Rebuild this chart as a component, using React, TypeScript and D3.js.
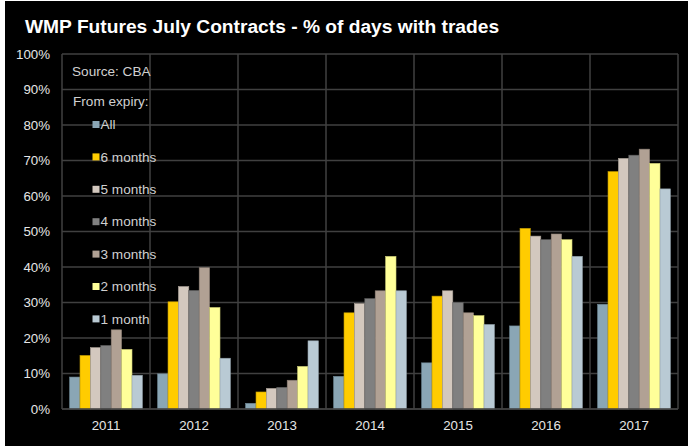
import React from "react";
import * as d3 from "d3";

const years = ["2011", "2012", "2013", "2014", "2015", "2016", "2017"];
const seriesNames = ["All", "6 months", "5 months", "4 months", "3 months", "2 months", "1 month"];
const seriesColors = ["#8aa6b5", "#ffcc00", "#d3c8be", "#808080", "#b1a194", "#ffff99", "#b9cad4"];
const seriesStrokes = ["#6f8794", "#b89300", "#a89e95", "#5e5e5e", "#8c7f74", "#c9c974", "#93a2ab"];
const allVals = [9.0, 9.9, 1.6, 9.2, 13.0, 23.4, 29.5];
const m6Vals = [15.1, 30.2, 4.8, 27.1, 31.8, 50.9, 66.9];
const m5Vals = [17.3, 34.5, 5.8, 29.7, 33.3, 48.7, 70.6];
const m4Vals = [17.9, 33.4, 6.1, 31.1, 30.0, 47.7, 71.5];
const m3Vals = [22.3, 39.8, 8.1, 33.3, 27.1, 49.3, 73.2];
const m2Vals = [16.8, 28.6, 12.0, 43.0, 26.3, 47.7, 69.2];
const m1Vals = [9.5, 14.3, 19.2, 33.3, 23.8, 43.0, 62.0];
const seriesValues = [allVals, m6Vals, m5Vals, m4Vals, m3Vals, m2Vals, m1Vals];
const yTicks = [0, 10, 20, 30, 40, 50, 60, 70, 80, 90, 100];

const W = 688;
const H = 446;
const left = 62;
const right = 678;
const top = 54;
const bottom = 409;

export default function App() {
  const x = d3.scaleBand<string>().domain(years).range([left, right]).paddingInner(0).paddingOuter(0);
  const inner = d3
    .scaleBand<string>()
    .domain(seriesNames)
    .range([0, x.bandwidth()])
    .paddingInner(0)
    .paddingOuter(0.73);
  const y = d3.scaleLinear().domain([0, 100]).range([bottom, top]);
  const font = "Arial, 'Liberation Sans', Helvetica, sans-serif";
  const legendY0 = 124.5;
  const legendStep = 32.4;

  return (
    <svg
      width={W}
      height={H}
      style={{ position: "absolute", left: 0, top: 0, display: "block" }}
      fontFamily={font}
    >
      <rect x={0} y={0} width={W} height={H} fill="#ffffff" />
      <rect x={5} y={1} width={W - 5} height={H - 1} fill="#000000" />
      <text x={25} y={33} fill="#ffffff" fontSize={19.2} fontWeight="bold">
        WMP Futures July Contracts - % of days with trades
      </text>

      {yTicks.map((t) => (
        <line key={"g" + t} x1={left} x2={right} y1={y(t)} y2={y(t)} stroke="#404040" strokeWidth={1.5} />
      ))}
      {years.map((yr) => (
        <line
          key={"v" + yr}
          x1={x(yr)!}
          x2={x(yr)!}
          y1={top}
          y2={bottom}
          stroke="#404040"
          strokeWidth={1.5}
        />
      ))}
      <line x1={right} x2={right} y1={top} y2={bottom} stroke="#404040" strokeWidth={1.5} />

      {years.map((yr, i) =>
        seriesNames.map((s, j) => {
          const v = seriesValues[j][i];
          return (
            <rect
              key={yr + s}
              x={x(yr)! + inner(s)!}
              y={y(v)}
              width={inner.bandwidth()}
              height={y(0) - y(v)}
              fill={seriesColors[j]}
              stroke={seriesStrokes[j]}
              strokeWidth={0.6}
            />
          );
        })
      )}

      <line x1={left} x2={right} y1={bottom} y2={bottom} stroke="#404040" strokeWidth={1.5} />

      {yTicks.map((t) => (
        <text
          key={"yl" + t}
          x={50}
          y={y(t)}
          dy="0.35em"
          textAnchor="end"
          fill="#e6e6e6"
          fontSize={13.3}
        >
          {t}%
        </text>
      ))}
      {years.map((yr) => (
        <text
          key={"xl" + yr}
          x={x(yr)! + x.bandwidth() / 2}
          y={430}
          textAnchor="middle"
          fill="#e6e6e6"
          fontSize={13.3}
        >
          {yr}
        </text>
      ))}

      <text x={72} y={76} fill="#d0d0d0" fontSize={13.6}>
        Source: CBA
      </text>
      <text x={73} y={106} fill="#d0d0d0" fontSize={13.6}>
        From expiry:
      </text>
      {seriesNames.map((s, j) => (
        <g key={"lg" + s} transform={`translate(0, ${legendY0 + j * legendStep})`}>
          <rect x={92.5} y={-3.5} width={7} height={7} fill={seriesColors[j]} />
          <text x={100.5} y={0} dy="0.35em" fill="#d0d0d0" fontSize={13.6}>
            {s}
          </text>
        </g>
      ))}
    </svg>
  );
}
